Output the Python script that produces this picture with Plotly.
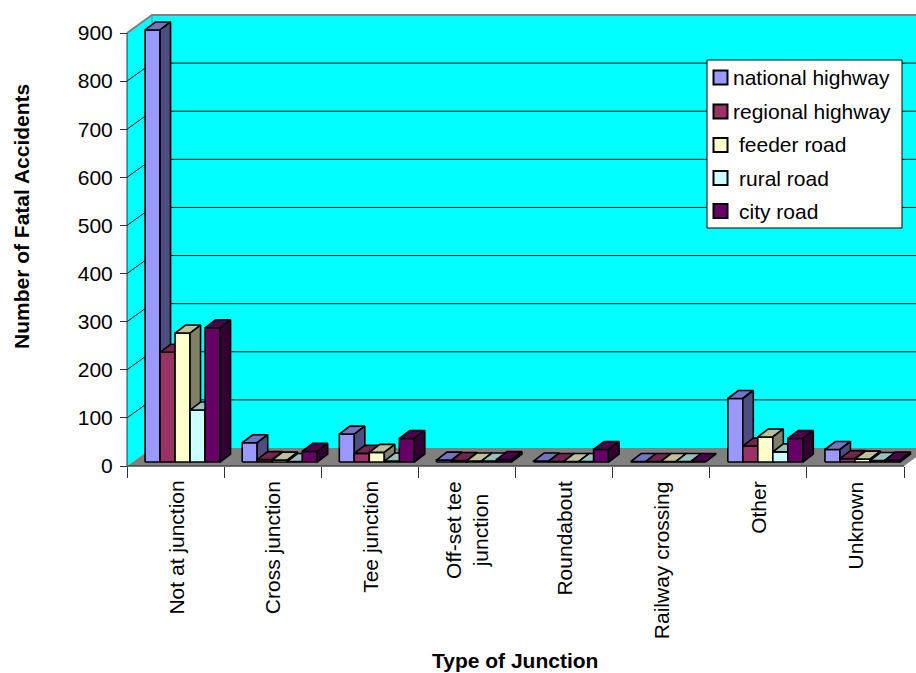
import plotly.graph_objects as go

# ---- data -------------------------------------------------------------
categories = [
    "Not at junction", "Cross junction", "Tee junction", "Off-set tee<br>junction",
    "Roundabout", "Railway crossing", "Other", "Unknown",
]
series_names = ["national highway", "regional highway", "feeder road", "rural road", "city road"]
national_highway = [898, 40, 58, 4, 2, 1, 132, 26]
regional_highway = [228, 5, 18, 3, 1, 1, 33, 7]
feeder_road = [268, 4, 20, 2, 1, 1, 52, 6]
rural_road = [108, 1, 2, 2, 1, 1, 21, 3]
city_road = [279, 22, 49, 5, 26, 1, 49, 4]
value_ticks = [0, 100, 200, 300, 400, 500, 600, 700, 800, 900]

series_values = [national_highway, regional_highway, feeder_road, rural_road, city_road]

# face colours of the 3-D columns: front, top, side
front_colors = ["#9999FF", "#993366", "#FFFFCC", "#CCFFFF", "#660066"]
top_colors = ["#7373BF", "#73264D", "#BFBF99", "#99BFBF", "#4D004D"]
side_colors = ["#4D4D80", "#4D1A33", "#808066", "#668080", "#330033"]

FONT = "Arial, 'Liberation Sans', sans-serif"
CYAN = "#00FFFF"
GREY = "#808080"

# ---- page geometry (pixels) ------------------------------------------
FIG_W, FIG_H = 916, 673
ML, MT = 117, 8              # plot area left / top
PLOT_R, PLOT_B = 916, 476    # plot area right / bottom
X0_PX, Y0_PX = 127, 466      # front corner of the chart box
PX_PER_CAT = 777 / 8
PX_PER_VAL = 433 / 900
PW, PH = PLOT_R - ML, PLOT_B - MT


def ux(px):
    return px / PX_PER_CAT


def uy(px):
    return px / PX_PER_VAL


def paper_x(px):
    return (px - ML) / PW


def paper_y(py):
    return (PLOT_B - py) / PH


x_range = [-ux(X0_PX - ML), ux(PLOT_R - X0_PX)]
y_range = [-uy(PLOT_B - Y0_PX), uy(Y0_PX - MT)]

n_cat = len(categories)
v_top = value_ticks[-1]

# oblique depth of the walls and of the columns
WX, WY = ux(25), uy(18)
BAR_DX, BAR_DY = ux(7), uy(4)
SX, SY = ux(10.5), uy(8)
BAR_W = ux(15)

fig = go.Figure()

# ---- columns: front, top and side faces --------------------------------
n_ser = len(series_values)
for k, vals in enumerate(series_values):
    fx, fy, tx, ty, sx, sy = [], [], [], [], [], []
    for i, v in enumerate(vals):
        xl = i + 0.5 - n_ser / 2 * BAR_W + BAR_DX + k * BAR_W
        xr = xl + BAR_W
        b = BAR_DY
        t = BAR_DY + v
        fx += [xl, xr, xr, xl, xl, None]
        fy += [b, b, t, t, b, None]
        tx += [xl, xr, xr + SX, xl + SX, xl, None]
        ty += [t, t, t + SY, t + SY, t, None]
        sx += [xr, xr + SX, xr + SX, xr, xr, None]
        sy += [b, b + SY, t + SY, t, b, None]
    for xs, ys, col in ((fx, fy, front_colors[k]), (tx, ty, top_colors[k]), (sx, sy, side_colors[k])):
        fig.add_trace(go.Scatter(
            x=xs, y=ys, mode="lines", fill="toself", fillcolor=col,
            line=dict(color="black", width=1.6), hoverinfo="skip",
            showlegend=False, name=series_names[k],
        ))

# ---- walls, floor and gridlines ---------------------------------------
shapes = []
xr_end = x_range[1] + 1
shapes.append(dict(type="rect", xref="x", yref="y", x0=WX, x1=xr_end, y0=WY, y1=v_top + WY,
                   fillcolor=CYAN, line=dict(width=0), layer="below"))
shapes.append(dict(type="path", xref="x", yref="y",
                   path=f"M0,0 L{WX},{WY} L{WX},{v_top + WY} L0,{v_top} Z",
                   fillcolor=CYAN, line=dict(width=0), layer="below"))
shapes.append(dict(type="path", xref="x", yref="y",
                   path=f"M0,0 L{n_cat},0 L{n_cat + WX},{WY} L{WX},{WY} Z",
                   fillcolor=GREY, line=dict(width=0), layer="below"))
for v in value_ticks[1:-1]:
    shapes.append(dict(type="line", xref="x", yref="y", x0=0, y0=v, x1=WX, y1=v + WY,
                       line=dict(color="black", width=1), layer="below"))
    shapes.append(dict(type="line", xref="x", yref="y", x0=WX, y0=v + WY, x1=xr_end, y1=v + WY,
                       line=dict(color="black", width=1), layer="below"))
# grey wall edges
shapes.append(dict(type="path", xref="x", yref="y",
                   path=f"M0,{v_top} L{WX},{v_top + WY} L{xr_end},{v_top + WY}",
                   line=dict(color=GREY, width=2), layer="below"))
shapes.append(dict(type="line", xref="x", yref="y", x0=WX, y0=WY, x1=WX, y1=v_top + WY,
                   line=dict(color=GREY, width=1), layer="below"))
# front axis lines
shapes.append(dict(type="line", xref="x", yref="y", x0=0, y0=0, x1=0, y1=v_top,
                   line=dict(color="#333333", width=1)))
shapes.append(dict(type="line", xref="x", yref="y", x0=0, y0=0, x1=n_cat, y1=0,
                   line=dict(color="#444444", width=1.5)))

# ---- legend box ---------------------------------------------------------
LEG_L, LEG_R, LEG_T, LEG_B = 707, 902, 60, 228
shapes.append(dict(type="rect", xref="paper", yref="paper",
                   x0=paper_x(LEG_L), x1=paper_x(LEG_R), y0=paper_y(LEG_B), y1=paper_y(LEG_T),
                   fillcolor="white", line=dict(color="black", width=1)))
row_y = [77.5, 111.5, 145, 178, 211]
text_x = [733, 733, 739, 739, 739]
annotations = []
for k, name in enumerate(series_names):
    cy = row_y[k]
    shapes.append(dict(type="rect", xref="paper", yref="paper",
                       x0=paper_x(713.5), x1=paper_x(727.5), y0=paper_y(cy + 7), y1=paper_y(cy - 7),
                       fillcolor=front_colors[k], line=dict(color="black", width=2)))
    annotations.append(dict(xref="paper", yref="paper", x=paper_x(text_x[k] - 2), y=paper_y(cy),
                            xanchor="left", yanchor="middle", showarrow=False, text=name,
                            font=dict(family=FONT, size=21, color="black")))

# ---- category labels and axis titles -----------------------------------
for i, cat in enumerate(categories):
    annotations.append(dict(xref="x", yref="paper", x=i + 0.5, y=paper_y(479),
                            xanchor="center", yanchor="top", textangle=-90, align="center",
                            showarrow=False, text=cat,
                            font=dict(family=FONT, size=21, color="black")))
annotations.append(dict(xref="paper", yref="paper", x=paper_x(515), y=paper_y(660),
                        xanchor="center", yanchor="middle", showarrow=False,
                        text="<b>Type of Junction</b>",
                        font=dict(family=FONT, size=21, color="black")))
annotations.append(dict(xref="paper", yref="paper", x=paper_x(22), y=paper_y(217),
                        xanchor="center", yanchor="middle", showarrow=False, textangle=-90,
                        text="<b>Number of Fatal Accidents</b>",
                        font=dict(family=FONT, size=21, color="black")))

fig.update_layout(
    width=FIG_W, height=FIG_H,
    margin=dict(l=ML, r=FIG_W - PLOT_R, t=MT, b=FIG_H - PLOT_B, pad=0),
    paper_bgcolor="white", plot_bgcolor="white",
    showlegend=False,
    shapes=shapes, annotations=annotations,
    xaxis=dict(range=x_range, anchor="free", position=paper_y(Y0_PX),
               showgrid=False, zeroline=False, showline=False,
               tickmode="array", tickvals=list(range(n_cat + 1)), showticklabels=False,
               ticks="outside", ticklen=11, tickwidth=1, tickcolor="#333333"),
    yaxis=dict(range=y_range, anchor="free", position=paper_x(X0_PX),
               showgrid=False, zeroline=False, showline=False,
               tickmode="array", tickvals=value_ticks, ticks="outside", ticklen=7,
               tickwidth=1, tickcolor="#333333", ticklabelstandoff=3,
               tickfont=dict(family=FONT, size=21, color="black")),
)

fig.write_html("out.html", config={"displayModeBar": False})
